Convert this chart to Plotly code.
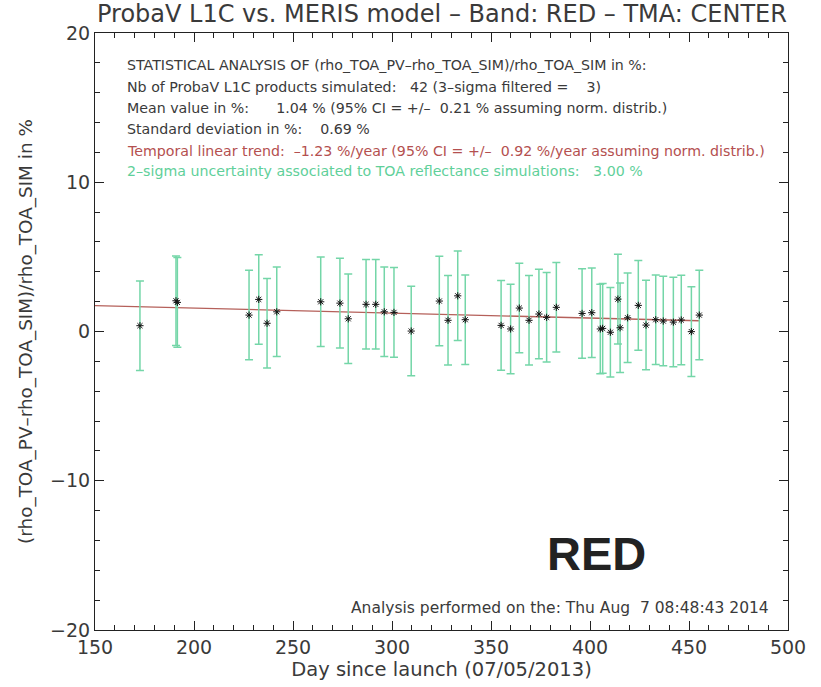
import plotly.graph_objects as go

# ---- data ----
days = [172.7, 190.9, 191.6, 227.8, 232.7, 236.9, 241.8, 264.0, 273.7, 277.9,
        286.9, 291.8, 296.1, 301.0, 309.7, 323.9, 328.3, 333.2, 337.0, 355.1,
        359.9, 364.3, 369.2, 374.2, 378.1, 383.0, 396.0, 400.9, 405.2, 406.4,
        410.3, 414.1, 415.2, 419.0, 424.4, 428.3, 433.2, 437.0, 442.1, 446.1,
        451.2, 455.2]
diff_pct = [0.39, 2.06, 1.95, 1.10, 2.15, 0.55, 1.32, 1.99, 1.90, 0.85,
            1.82, 1.82, 1.32, 1.28, 0.03, 2.04, 0.75, 2.39, 0.79, 0.41,
            0.17, 1.57, 0.75, 1.17, 0.95, 1.62, 1.21, 1.26, 0.17, 0.21,
            -0.05, 2.17, 0.25, 0.92, 1.75, 0.43, 0.79, 0.70, 0.63, 0.77,
            -0.01, 1.10]
sigma2_unc = 3.0
trend_days = [150, 455]
trend_vals = [1.73, 0.72]

x_range = [150, 500]
y_range = [-20, 20]

title_txt = "ProbaV L1C vs. MERIS model – Band: RED – TMA: CENTER"
stat_lines = [
    ("STATISTICAL ANALYSIS OF (rho_TOA_PV–rho_TOA_SIM)/rho_TOA_SIM in %:", "#3a3a3a"),
    ("Nb of ProbaV L1C products simulated:   42 (3–sigma filtered =    3)", "#3a3a3a"),
    ("Mean value in %:      1.04 % (95% CI = +/–  0.21 % assuming norm. distrib.)", "#3a3a3a"),
    ("Standard deviation in %:    0.69 %", "#3a3a3a"),
    ("Temporal linear trend:  –1.23 %/year (95% CI = +/–  0.92 %/year assuming norm. distrib.)", "#b4504f"),
    ("2–sigma uncertainty associated to TOA reflectance simulations:   3.00 %", "#5fd09a"),
]
date_txt = "Analysis performed on the: Thu Aug  7 08:48:43 2014"
band_txt = "RED"
x_title = "Day since launch (07/05/2013)"
y_title = "(rho_TOA_PV–rho_TOA_SIM)/rho_TOA_SIM in %"

GREEN = "#74d6a8"
RED = "#b5605a"
TXT = "#3a3a3a"
FONT = "DejaVu Sans"

fig = go.Figure()
fig.add_trace(go.Scatter(
    x=trend_days, y=trend_vals, mode="lines",
    line=dict(color=RED, width=1.3), hoverinfo="skip", showlegend=False))
fig.add_trace(go.Scatter(
    x=days, y=diff_pct, mode="markers",
    marker=dict(symbol="asterisk-open", size=6, color="#111111",
                line=dict(color="#111111", width=1.0)),
    error_y=dict(type="constant", value=sigma2_unc, color=GREEN,
                 thickness=1.5, width=4),
    showlegend=False))

# plot-area pixel geometry (box 95..788 x 33..632)
ann = []
line_px = [65, 87, 108, 129, 151, 171]
for (txt, col), ypx in zip(stat_lines, line_px):
    ann.append(dict(text=txt, xref="paper", yref="paper",
                    x=(125 - 95) / 693, y=(632 - ypx) / 599,
                    xanchor="left", yanchor="middle", showarrow=False,
                    font=dict(family=FONT, size=14.2, color=col)))
ann.append(dict(text=date_txt, xref="paper", yref="paper",
                x=(771 - 95) / 693, y=(632 - 610) / 599,
                xanchor="right", yanchor="middle", showarrow=False,
                font=dict(family=FONT, size=15.5, color=TXT)))
ann.append(dict(text="<b>" + band_txt + "</b>", xref="paper", yref="paper",
                x=(596 - 95) / 693, y=(632 - 555) / 599,
                xanchor="center", yanchor="middle", showarrow=False,
                font=dict(family="Liberation Sans", size=47, color="#222222")))
ann.append(dict(text=title_txt, xref="paper", yref="paper",
                x=0.5, y=1.0, yshift=3,
                xanchor="center", yanchor="bottom", showarrow=False,
                font=dict(family=FONT, size=24, color=TXT)))

axis_common = dict(showline=True, linecolor="#222222", linewidth=1,
                   mirror="allticks", ticks="inside", ticklen=9,
                   tickcolor="#222222", showgrid=False, zeroline=False,
                   tickfont=dict(family=FONT, size=19, color=TXT))

fig.update_layout(
    width=821, height=687,
    margin=dict(l=95, r=33, t=33, b=55),
    paper_bgcolor="white", plot_bgcolor="white",
    xaxis=dict(range=x_range, dtick=50, tick0=150,
               minor=dict(dtick=10, ticks="inside", ticklen=5, tickcolor="#222222"),
               title=dict(text=x_title, standoff=4,
                          font=dict(family=FONT, size=19.5, color=TXT)),
               **axis_common),
    yaxis=dict(range=y_range, dtick=10, tick0=0,
               minor=dict(dtick=2, ticks="inside", ticklen=5, tickcolor="#222222"),
               title=dict(text=y_title, standoff=12,
                          font=dict(family=FONT, size=18.4, color=TXT)),
               **axis_common),
    annotations=ann,
)

fig.write_html("out.html")
